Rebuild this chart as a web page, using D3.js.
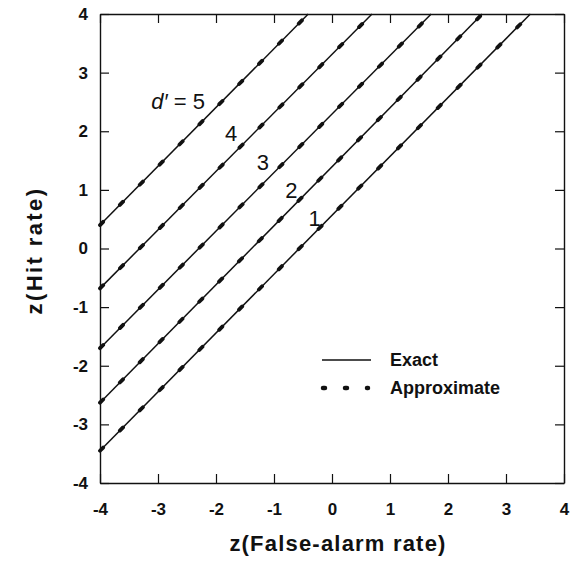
<!DOCTYPE html>
<html>
<head>
<meta charset="utf-8">
<script src="https://cdn.jsdelivr.net/npm/d3@7"></script>
<style>
  html, body { margin: 0; padding: 0; background: #fff; }
  svg { display: block; font-family: "Liberation Sans", Arial, Helvetica, sans-serif; }
</style>
</head>
<body>
<div id="chart"></div>
<script>
// d' values for the five iso-sensitivity lines
const dPrimes = [5, 4, 3, 2, 1];
// z(Hit rate) where each line meets z(False-alarm rate) = -4
const lineStartY = [0.40, -0.68, -1.70, -2.63, -3.45];
// z(False-alarm rate) where each line reaches z(Hit rate) = 4
const lineEndX = [-0.41, 0.69, 1.71, 2.59, 3.42];
// label anchor points in data units
const labelX = [-2.19, -1.74, -1.19, -0.70, -0.30];
const labelY = [2.52, 1.97, 1.47, 1.00, 0.52];
const tickValues = [-4, -3, -2, -1, 0, 1, 2, 3, 4];
const legendItems = ["Exact", "Approximate"];

const width = 579;
const height = 568;
const margin = { top: 14, right: 15, bottom: 85, left: 100 };

/**
 * Builds the line records from the top-level arrays.
 *
 * @returns {Array<{d: number, x1: number, y1: number, x2: number, y2: number}>}
 */
function buildLines() {
  return dPrimes.map((d, i) => ({
    d,
    x1: -4,
    y1: lineStartY[i],
    x2: lineEndX[i],
    y2: 4
  }));
}

/**
 * Draws the four framed axes with inward ticks.
 */
function renderAxes(svg, x, y) {
  const innerW = width - margin.left - margin.right;
  const innerH = height - margin.top - margin.bottom;
  const fmt = (v) => String(v);

  const styleAxis = (g) => {
    g.select(".domain").attr("stroke", "#111").attr("stroke-width", 1.4);
    g.selectAll(".tick line").attr("stroke", "#111").attr("stroke-width", 1.2);
    g.selectAll(".tick text")
      .attr("fill", "#111")
      .style("font-size", "17px")
      .style("font-weight", "bold");
  };

  svg.append("g")
    .attr("transform", `translate(0,${margin.top + innerH})`)
    .call(d3.axisBottom(x).tickValues(tickValues).tickFormat(fmt).tickSizeInner(-9).tickSizeOuter(0).tickPadding(20))
    .call(styleAxis);

  svg.append("g")
    .attr("transform", `translate(${margin.left},0)`)
    .call(d3.axisLeft(y).tickValues(tickValues).tickFormat(fmt).tickSizeInner(-9).tickSizeOuter(0).tickPadding(12))
    .call(styleAxis);

  svg.append("g")
    .attr("transform", `translate(0,${margin.top})`)
    .call(d3.axisTop(x).tickValues(tickValues).tickFormat("").tickSizeInner(-9).tickSizeOuter(0))
    .call(styleAxis);

  svg.append("g")
    .attr("transform", `translate(${margin.left + innerW},0)`)
    .call(d3.axisRight(y).tickValues(tickValues).tickFormat("").tickSizeInner(-9).tickSizeOuter(0))
    .call(styleAxis);

  svg.append("text")
    .attr("x", margin.left + innerW / 2 + 6)
    .attr("y", 551)
    .attr("text-anchor", "middle")
    .style("font-size", "22px")
    .style("font-weight", "bold")
    .style("letter-spacing", "1.2px")
    .attr("fill", "#111")
    .text("z(False-alarm rate)");

  svg.append("text")
    .attr("transform", `translate(42,${margin.top + innerH / 2 + 2}) rotate(-90)`)
    .attr("text-anchor", "middle")
    .style("font-size", "22px")
    .style("font-weight", "bold")
    .style("letter-spacing", "2.4px")
    .attr("fill", "#111")
    .text("z(Hit rate)");
}

/**
 * Draws the exact (solid) and approximate (dotted) lines.
 */
function renderLines(svg, x, y, lines) {
  const g = svg.append("g");
  g.selectAll("line.exact")
    .data(lines)
    .join("line")
    .attr("class", "exact")
    .attr("x1", (l) => x(l.x1))
    .attr("y1", (l) => y(l.y1))
    .attr("x2", (l) => x(l.x2))
    .attr("y2", (l) => y(l.y2))
    .attr("stroke", "#111")
    .attr("stroke-width", 1.5);

  g.selectAll("line.approx")
    .data(lines)
    .join("line")
    .attr("class", "approx")
    .attr("x1", (l) => x(l.x1))
    .attr("y1", (l) => y(l.y1))
    .attr("x2", (l) => x(l.x2))
    .attr("y2", (l) => y(l.y2))
    .attr("stroke", "#111")
    .attr("stroke-width", 3.8)
    .attr("stroke-linecap", "round")
    .attr("stroke-dasharray", "4.5 23.8");
}

/**
 * Draws the d' labels next to each line.
 */
function renderLabels(svg, x, y) {
  const g = svg.append("g")
    .style("font-size", "22px")
    .attr("fill", "#111");
  dPrimes.forEach((d, i) => {
    const t = g.append("text")
      .attr("x", x(labelX[i]))
      .attr("y", y(labelY[i]))
      .attr("dy", "0.36em")
      .attr("text-anchor", i === 0 ? "end" : "middle");
    if (i === 0) {
      t.append("tspan").style("font-style", "italic").text("d\u2032");
      t.append("tspan").text(" = " + d);
    } else {
      t.text(d);
    }
  });
}

/**
 * Draws the legend in the lower right of the plot.
 */
function renderLegend(svg) {
  const g = svg.append("g").attr("transform", "translate(322,360)");
  g.append("line")
    .attr("x1", 0).attr("x2", 49)
    .attr("y1", 0).attr("y2", 0)
    .attr("stroke", "#111")
    .attr("stroke-width", 1.5);
  g.append("line")
    .attr("x1", 1).attr("x2", 46)
    .attr("y1", 28).attr("y2", 28)
    .attr("stroke", "#111")
    .attr("stroke-width", 4.5)
    .attr("stroke-linecap", "round")
    .attr("stroke-dasharray", "2 20");
  g.selectAll("text")
    .data(legendItems)
    .join("text")
    .attr("x", 68)
    .attr("y", (_, i) => i * 28)
    .attr("dy", "0.36em")
    .style("font-size", "18px")
    .style("font-weight", "bold")
    .attr("fill", "#111")
    .text((s) => s);
}

function render() {
  const svg = d3.select("#chart").append("svg")
    .attr("width", width)
    .attr("height", height);
  const x = d3.scaleLinear().domain([-4, 4]).range([margin.left, width - margin.right]);
  const y = d3.scaleLinear().domain([-4, 4]).range([height - margin.bottom, margin.top]);
  renderLines(svg, x, y, buildLines());
  renderAxes(svg, x, y);
  renderLabels(svg, x, y);
  renderLegend(svg);
}

render();
</script>
</body>
</html>
